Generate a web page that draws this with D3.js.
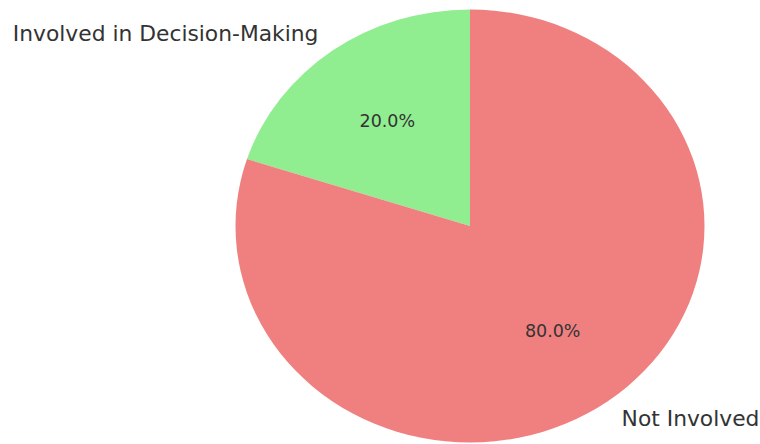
<!DOCTYPE html>
<html><head><meta charset="utf-8">
<script src="https://cdn.jsdelivr.net/npm/d3@7"></script>
<style>body{margin:0;background:#fff}svg{display:block}</style>
</head><body>
<svg id="c" width="760" height="444"></svg>
<script>
const categories = ["Involved in Decision-Making", "Not Involved"];
const values = [20, 80];
const colors = ["#90EE90", "#F08080"];

const svg = d3.select("#c");
const cx = 470, cy = 226, rx = 234.5, ry = 216.5;
const pctSize = 17.5, labelSize = 21.8;
const g = svg.append("g").attr("transform", `translate(${cx},${cy}) scale(${rx/ry},1)`);
const total = d3.sum(values);
// matplotlib: startangle 90, counterclockwise. d3 angles: clockwise from 12 o'clock.
const pie = d3.pie().sort(null).value(d => d).startAngle(0).endAngle(-2 * Math.PI);
const arcs = pie(values);
const arc = d3.arc().innerRadius(0).outerRadius(ry);
g.selectAll("path").data(arcs).join("path")
  .attr("d", arc).attr("fill", (d, i) => colors[i]);

const txt = svg.append("g").attr("font-family", "DejaVu Sans").attr("fill", "#333");
arcs.forEach((d, i) => {
  const mid = (d.startAngle + d.endAngle) / 2; // d3 angle
  const ux = Math.sin(mid), uy = -Math.cos(mid);
  const lx = cx + 1.1 * rx * ux, ly = cy + 1.1 * ry * uy;
  txt.append("text").attr("x", lx).attr("y", ly).attr("dy", "0.35em")
    .attr("font-size", labelSize)
    .attr("text-anchor", ux < 0 ? "end" : "start").text(categories[i]);
  const px = cx + 0.6 * rx * ux, py = cy + 0.6 * ry * uy;
  txt.append("text").attr("x", px).attr("y", py).attr("dy", "0.35em")
    .attr("font-size", pctSize)
    .attr("text-anchor", "middle").text((values[i] / total * 100).toFixed(1) + "%");
});
</script>
</body></html>
